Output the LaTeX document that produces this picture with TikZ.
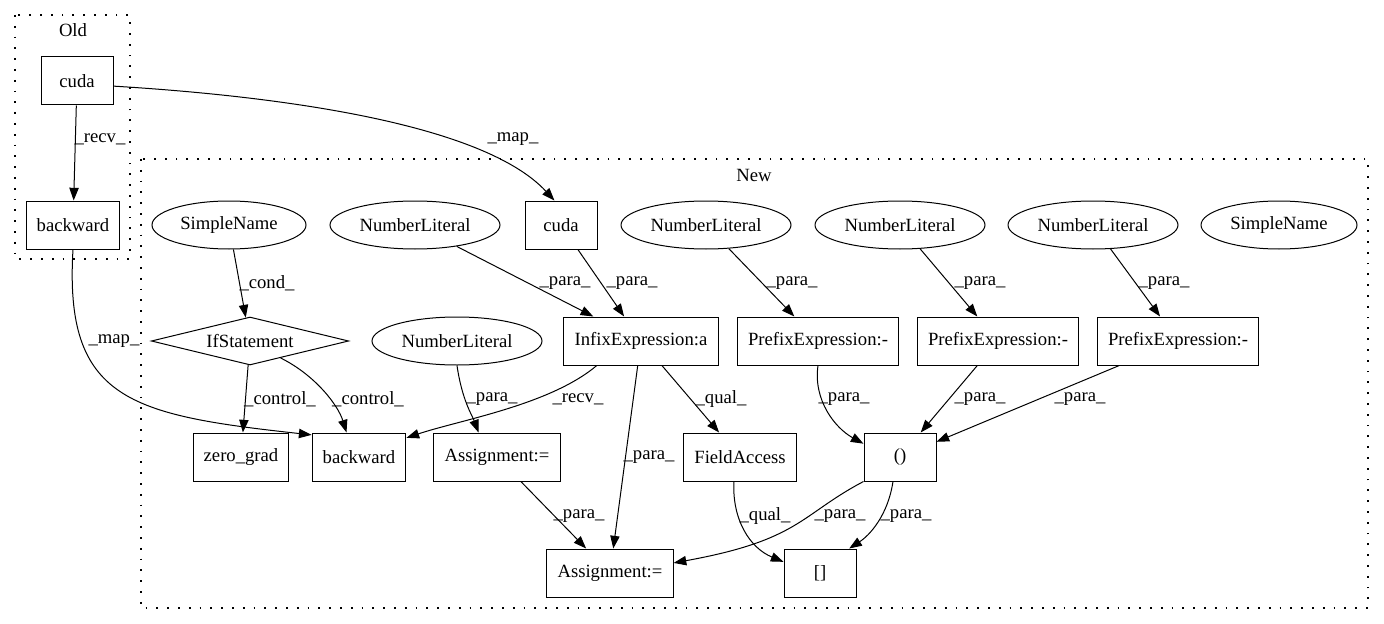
\documentclass[tikz,border=0pt]{standalone}
\usepackage{fontspec}
\setmainfont{Liberation Serif}
\usetikzlibrary{shapes.geometric,arrows.meta}
\begin{document}
\begin{tikzpicture}[x=0.75pt,y=-0.75pt, font=\fontsize{14}{16}\selectfont,
  box/.style={draw, rectangle, minimum width=54pt, minimum height=36pt, inner xsep=8pt, line width=0.75pt},
  ell/.style={draw, ellipse, minimum height=36pt, inner sep=0pt, line width=0.75pt},
  dia/.style={draw, diamond, shape aspect=4.4, inner sep=0pt, minimum width=148pt, minimum height=36pt, line width=0.75pt},
  edge/.style={-{Triangle[length=9.5pt,width=7pt]}, line width=0.75pt},
  lbl/.style={inner sep=0pt},
  cluster/.style={line width=1pt, dash pattern=on 1.4pt off 6.7pt}]
\useasboundingbox (0,0) rectangle (1384,624);
% clusters
\draw[cluster] (15,15) rectangle (130,259);
\node[lbl] (oldlbl) at (73,30) {Old};
\draw[cluster] (141,159) rectangle (1368,608);
\node[lbl] (newlbl) at (754,175) {New};
% nodes
\node[box] (oldcuda) at (77,81) {cuda};
\node[box] (oldback) at (73,225) {backward};
\node[ell, minimum width=115.5pt] (sn1) at (229,225) {SimpleName};
\node[ell, minimum width=127.5pt] (nl1) at (415,225) {NumberLiteral};
\node[box] (newcuda) at (561,225) {cuda};
\node[ell, minimum width=127.5pt] (nl2) at (706,225) {NumberLiteral};
\node[ell, minimum width=127.5pt] (nl3) at (900,225) {NumberLiteral};
\node[ell, minimum width=127.5pt] (nl4) at (1093,225) {NumberLiteral};
\node[ell, minimum width=117pt] (sn2) at (1279,225) {SimpleName};
\node[dia] (ifs) at (250,341) {IfStatement};
\node[ell, minimum width=127.5pt] (nl5) at (457,341) {NumberLiteral};
\node[box] (infix) at (641,341) {InfixExpression:a};
\node[box] (p1) at (818,341) {PrefixExpression:-};
\node[box] (p2) at (998,341) {PrefixExpression:-};
\node[box] (p3) at (1178,341) {PrefixExpression:-};
\node[box] (zg) at (241,457) {zero\_grad};
\node[box] (newback) at (359,457) {backward};
\node[box] (asg1) at (497,457) {Assignment:=};
\node[box] (field) at (740,457) {FieldAccess};
\node[box] (paren) at (900,457) {()};
\node[box] (asg2) at (610,573) {Assignment:=};
\node[box] (brk) at (820,573) {[]};
% edges
\draw[edge] (oldcuda) -- (oldback);
\draw[edge] (oldcuda.-8) .. controls (260,95) and (480,120) .. (newcuda.105);
\draw[edge] (oldback.south) .. controls (64,400) and (130,415) .. (newback.155);
\draw[edge] (sn1) -- (ifs);
\draw[edge] (nl1) -- (infix);
\draw[edge] (newcuda) -- (infix);
\draw[edge] (nl2) -- (p1);
\draw[edge] (nl3) -- (p2);
\draw[edge] (nl4) -- (p3);
\draw[edge] (ifs) -- (zg);
\draw[edge] (ifs.-29) .. controls (315,375) and (338,405) .. (newback.117);
\draw[edge] (nl5.south) .. controls (462,400) and (472,415) .. (asg1.127);
\draw[edge] (infix.209) .. controls (550,405) and (460,420) .. (newback.22);
\draw[edge] (infix) -- (asg2);
\draw[edge] (infix) -- (field);
\draw[edge] (p1.south) .. controls (813,400) and (835,428) .. (paren.160);
\draw[edge] (p2) -- (paren);
\draw[edge] (p3) -- (paren);
\draw[edge] (asg1) -- (asg2);
\draw[edge] (field.-104) .. controls (732,520) and (750,548) .. (brk.163);
\draw[edge] (paren.south west) .. controls (800,515) and (800,540) .. (asg2.9);
\draw[edge] (paren.-106) .. controls (888,515) and (870,535) .. (brk.40);
% edge labels
\node[lbl] (l1) at (100,139) {\_recv\_};
\node[lbl] (l2) at (513,139) {\_map\_};
\node[lbl] (l3) at (114,341) {\_map\_};
\node[lbl] (l4) at (267,283) {\_cond\_};
\node[lbl] (l5) at (565,283) {\_para\_};
\node[lbl] (l6) at (632,283) {\_para\_};
\node[lbl] (l7) at (792,283) {\_para\_};
\node[lbl] (l8) at (980,283) {\_para\_};
\node[lbl] (l9) at (1164,283) {\_para\_};
\node[lbl] (l10) at (280,399) {\_control\_};
\node[lbl] (l11) at (368,399) {\_control\_};
\node[lbl] (l12) at (492,399) {\_para\_};
\node[lbl] (l13) at (578,399) {\_recv\_};
\node[lbl] (l14) at (721,399) {\_qual\_};
\node[lbl] (l15) at (844,399) {\_para\_};
\node[lbl] (l16) at (980,399) {\_para\_};
\node[lbl] (l17) at (1080,399) {\_para\_};
\node[lbl] (l18) at (649,457) {\_para\_};
\node[lbl] (l19) at (579,516) {\_para\_};
\node[lbl] (l20) at (765,516) {\_qual\_};
\node[lbl] (l21) at (840,516) {\_para\_};
\node[lbl] (l22) at (906,516) {\_para\_};
\end{tikzpicture}
\end{document}
